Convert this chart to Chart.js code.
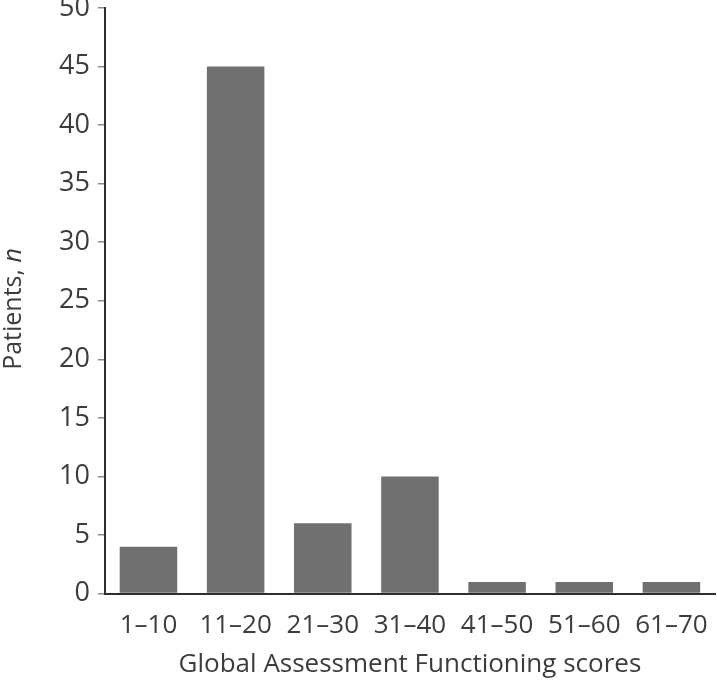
<!DOCTYPE html>
<html lang="en">
<head>
    <meta charset="UTF-8">
    <title>GAF scores</title>
    <script src="https://cdn.jsdelivr.net/npm/chart.js"></script>
    <style>
        body {
            margin: 0;
            padding: 0;
            background: #ffffff;
        }
        .chart-container {
            position: relative;
            width: 717px;
            height: 686px;
        }
    </style>
</head>
<body>
    <div class="chart-container">
        <canvas id="gafChart"></canvas>
    </div>

    <script>
        const scoreBands = ["1–10", "11–20", "21–30", "31–40", "41–50", "51–60", "61–70"];
        const patientCounts = [4, 45, 6, 10, 1, 1, 1];
        const yTicks = [0, 5, 10, 15, 20, 25, 30, 35, 40, 45, 50];

        const textColor = "#3c3c3c";
        const fontFamily = "'Open Sans', sans-serif";

        // y title with italic "n", drawn by hand
        const yTitlePlugin = {
            id: "yTitle",
            afterDraw(chart) {
                const ctx = chart.ctx;
                ctx.save();
                ctx.translate(21, 309);
                ctx.rotate(-Math.PI / 2);
                ctx.fillStyle = textColor;
                ctx.textBaseline = "alphabetic";
                ctx.textAlign = "left";
                const part1 = "Patients, ";
                ctx.font = "25px " + fontFamily;
                const w1 = ctx.measureText(part1).width;
                ctx.font = "italic 25px " + fontFamily;
                const w2 = ctx.measureText("n").width;
                const start = -(w1 + w2) / 2;
                ctx.font = "25px " + fontFamily;
                ctx.fillText(part1, start, 0);
                ctx.font = "italic 25px " + fontFamily;
                ctx.fillText("n", start + w1, 0);
                ctx.restore();
            }
        };

        new Chart(document.getElementById("gafChart"), {
            type: "bar",
            data: {
                labels: scoreBands,
                datasets: [{
                    data: patientCounts,
                    backgroundColor: "#707070",
                    borderWidth: 0,
                    barPercentage: 0.66,
                    categoryPercentage: 1.0
                }]
            },
            options: {
                responsive: true,
                maintainAspectRatio: false,
                animation: false,
                layout: { padding: { left: 51, top: 8, right: 2, bottom: 6 } },
                plugins: {
                    legend: { display: false },
                    tooltip: { enabled: false }
                },
                scales: {
                    x: {
                        grid: { display: false },
                        border: { display: true, color: "#2e2e2e", width: 2 },
                        ticks: {
                            color: textColor,
                            font: { family: fontFamily, size: 26 },
                            padding: 8,
                            maxRotation: 0,
                            autoSkip: false
                        },
                        title: {
                            display: true,
                            text: "Global Assessment Functioning scores",
                            color: textColor,
                            font: { family: fontFamily, size: 26 },
                            padding: { top: 0, bottom: 0 }
                        }
                    },
                    y: {
                        min: 0,
                        max: 50,
                        afterBuildTicks(axis) {
                            axis.ticks = yTicks.map(v => ({ value: v }));
                        },
                        afterFit(axis) {
                            // let the top label run into the margin like the original
                            axis.paddingTop = 0;
                        },
                        grid: {
                            drawOnChartArea: false,
                            drawTicks: true,
                            tickLength: 7,
                            color: "#8a8a8a",
                            lineWidth: 1.5
                        },
                        border: { display: true, color: "#2e2e2e", width: 2 },
                        ticks: {
                            color: textColor,
                            font: { family: fontFamily, size: 27 },
                            padding: 8
                        }
                    }
                }
            },
            plugins: [yTitlePlugin]
        });
    </script>
</body>
</html>
